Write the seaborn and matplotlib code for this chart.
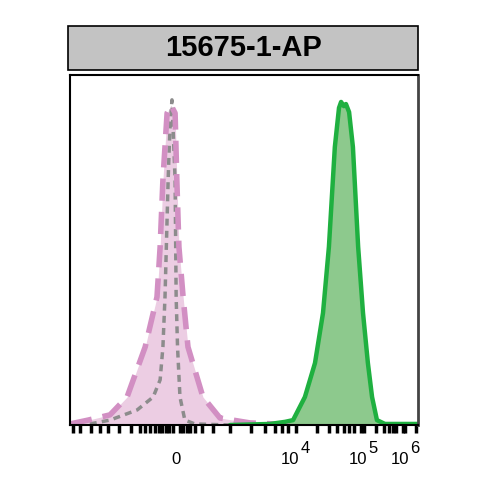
import numpy as np
import pandas as pd
import matplotlib
matplotlib.use('Agg')
import matplotlib.pyplot as plt
import seaborn as sns
from matplotlib.patches import Rectangle

# x in display channel units (0-1000, biexponential axis), y in % of max
pink_x = [0, 52, 115, 164, 216, 250, 259, 267, 279, 290, 302, 307, 313, 325, 339, 382, 431, 517, 589, 661]
pink_y = [0.3, 1.4, 2.9, 8.0, 22.3, 36.6, 50.9, 70.0, 89.1, 91.4, 89.1, 70.0, 50.9, 36.6, 22.3, 8.0, 2.0, 0.6, 0.3, 0.0]

gray_x = [57, 115, 193, 239, 259, 267, 273, 282, 287, 293, 302, 305, 309, 316, 330, 359, 460]
gray_y = [0.3, 1.4, 4.3, 8.0, 12.9, 22.3, 36.6, 70.0, 84.3, 92.9, 70.0, 36.6, 22.3, 8.0, 1.4, 0.3, 0.0]

green_x = [460, 575, 618, 641, 675, 704, 727, 744, 761, 773, 779, 787, 793, 802, 813, 828, 842, 856, 868, 882, 905, 1000]
green_y = [0.0, 0.3, 0.9, 1.4, 8.0, 17.7, 32.0, 50.9, 79.4, 90.6, 92.3, 91.1, 91.7, 89.4, 79.4, 50.9, 32.0, 17.7, 8.0, 1.4, 0.3, 0.3]

tick_pos = [305, 632, 828, 948]
tick_labels = ['0', '10', '10', '10']
tick_exps = ['', '4', '5', '6']
minor_pos = [10, 30, 60, 85, 110, 140, 175, 200, 215, 230, 245, 255, 265, 275, 285, 295,
             315, 325, 335, 345, 360, 380, 410, 460, 520, 560, 590, 610, 625, 650,
             709, 743, 767, 786, 802, 815, 845, 836, 880, 901, 916, 927, 937, 963, 958, 995]
title = '15675-1-AP'

sns.set_style('white')
plt.rcParams['font.family'] = ['Liberation Sans', 'DejaVu Sans']

fig = plt.figure(figsize=(4.9, 4.9), dpi=100)
ax = fig.add_axes([70 / 490, 1 - 425 / 490, 348 / 490, 350 / 490])

pink = pd.DataFrame({'x': pink_x, 'y': pink_y})
gray = pd.DataFrame({'x': gray_x, 'y': gray_y})
green = pd.DataFrame({'x': green_x, 'y': green_y})

ax.fill_between(pink['x'], pink['y'], color='#eccde3', lw=0)
ax.fill_between(green['x'], green['y'], color='#8dc98d', lw=0)
sns.lineplot(data=gray, x='x', y='y', ax=ax, color='#8c8c8c', lw=2.5,
             linestyle=(0, (2, 1.5)), estimator=None, sort=False)
sns.lineplot(data=pink, x='x', y='y', ax=ax, color='#d28fc3', lw=4,
             linestyle=(0, (4, 2)), estimator=None, sort=False)
sns.lineplot(data=green, x='x', y='y', ax=ax, color='#1fb040', lw=3.2,
             estimator=None, sort=False)

ax.set_xlim(0, 1000)
ax.set_ylim(0, 100)
ax.set_xlabel('')
ax.set_ylabel('')
ax.set_yticks([])
ax.set_xticks(tick_pos)
ax.set_xticklabels(tick_labels, fontsize=12, color='black')
ax.set_xticks(minor_pos, minor=True)
ax.tick_params(axis='x', which='major', length=0, pad=19.5, bottom=True)
ax.tick_params(axis='x', which='minor', length=6, width=2.5, color='black', direction='out', bottom=True)
for pos, e in zip(tick_pos, tick_exps):
    if e:
        ax.annotate(e, xy=(pos, 0), xycoords=('data', 'axes fraction'),
                    xytext=(7.5, -20), textcoords='offset points',
                    ha='left', va='baseline', fontsize=12, color='black')
for side in ['left', 'top', 'bottom']:
    ax.spines[side].set_color('black')
    ax.spines[side].set_linewidth(1.5)
ax.spines['right'].set_color('#444444')
ax.spines['right'].set_linewidth(2)

# title box
fig.patches.append(Rectangle((68 / 490, 1 - 70 / 490), 350 / 490, 44 / 490,
                             transform=fig.transFigure, facecolor='#c3c3c3',
                             edgecolor='black', lw=1.2))
fig.text(243 / 490, 1 - 48 / 490, title, ha='center', va='center',
         fontsize=21, fontweight='bold', color='black')

fig.savefig('out.png', dpi=100)
